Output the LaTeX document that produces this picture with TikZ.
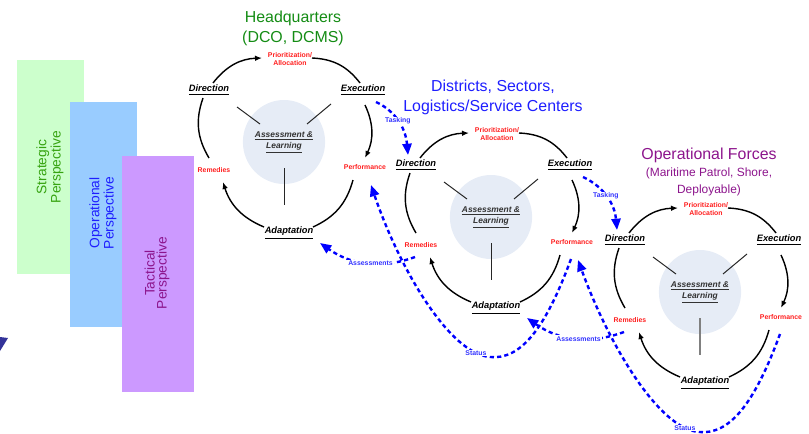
\documentclass[tikz,border=0pt]{standalone}
\usepackage{fontspec}
\setmainfont{Liberation Sans}
\usetikzlibrary{calc}
\usetikzlibrary{arrows.meta}
\usetikzlibrary{shapes.geometric}

\definecolor{hqgreen}{RGB}{20,140,20}
\definecolor{dsblue}{RGB}{30,30,255}
\definecolor{ofpurple}{RGB}{140,20,140}
\definecolor{lblred}{RGB}{255,30,30}
\definecolor{lnkblue}{RGB}{0,0,255}
\definecolor{lnktext}{RGB}{51,51,255}
\definecolor{stratbg}{RGB}{204,255,204}
\definecolor{operbg}{RGB}{153,204,255}
\definecolor{tactbg}{RGB}{204,153,255}
\definecolor{hubfill}{RGB}{230,236,246}
\definecolor{edgeblue}{RGB}{51,51,153}

\tikzset{
  title/.style={align=center, font=\fontsize{11.3}{14.3}\selectfont},
  persp/.style={rotate=90, align=center, font=\fontsize{9.8}{8.5}\selectfont},
  stage/.style={font=\fontsize{6.6}{8}\selectfont\bfseries\itshape},
  redlbl/.style={text=lblred, align=center, inner sep=1pt, font=\fontsize{4.9}{5.9}\selectfont\bfseries},
  hub/.style={ellipse, fill=hubfill, minimum width=1.85cm, minimum height=2.1cm, inner sep=0pt,
    align=center, text=black!80, font=\fontsize{6}{7.8}\selectfont\bfseries\itshape},
  cyc/.style={line width=1pt, >={Latex[length=5pt,width=4pt]}},
  spoke/.style={line width=0.7pt, black!85},
  spokegray/.style={line width=1.4pt, black!50},
  link/.style={draw=lnkblue, line width=1.7pt, dash pattern=on 3pt off 2.2pt, ->, >={Triangle[length=8pt,width=6.5pt]}},
  linklbl/.style={text=lnktext, fill=white, inner sep=0.6pt, font=\fontsize{4.9}{5.9}\selectfont\bfseries}
}

\begin{document}
\begin{tikzpicture}[x=0.025cm, y=0.025cm]
\useasboundingbox (0,0) rectangle (809,-434);

\fill[stratbg] (17,-60) rectangle (84,-274);
\fill[operbg] (70,-102) rectangle (137,-327);
\fill[tactbg] (122,-156) rectangle (194,-392);
\node (strat) at (50,-167) [persp, text=hqgreen!80!lime] {Strategic\\Perspective};
\node (oper) at (103,-213) [persp, text=dsblue] {Operational\\Perspective};
\node (tact) at (157,-273) [persp, text=ofpurple] {Tactical\\Perspective};
\fill[edgeblue] (0,-337) -- (8,-338) -- (0,-351) -- cycle;

\node (hqtitle) at (293,-28) [title, text=hqgreen] {Headquarters\\(DCO, DCMS)};
\node (dstitle) at (493,-97) [title, text=dsblue] {Districts, Sectors,\\Logistics/Service Centers};
\node (oftitle) at (709,-172) [title, text=ofpurple, font=\fontsize{11.3}{12.3}\selectfont]
  {Operational Forces\\{\fontsize{8.5}{12}\selectfont (Maritime Patrol, Shore,}\\{\fontsize{8.5}{12}\selectfont Deployable)}};

\foreach \n/\cx/\cy/\s in {hq/287/142/spoke, ds/494/217/spoke, of/703/292/spokegray}{
  \coordinate (c\n) at (\cx,-\cy);
  \node (\n-hub) at ($(c\n)+(-3,0)$) [hub] {\underline{Assessment \&}\\\underline{Learning}};
  \draw[spoke] ($(c\n)+(-50,35)$) -- ($(c\n)+(-27,18)$);
  \draw[spoke] ($(c\n)+(44,38)$) -- ($(c\n)+(20,18)$);
  \draw[\s] ($(c\n)+(-3,-26)$) -- ($(c\n)+(-3,-63)$);
  \draw[cyc] ($(c\n)+(-78,-16)$) to[bend left=25] ($(c\n)+(-84,44)$);
  \draw[cyc,->] ($(c\n)+(-74,59)$) to[bend left=25] ($(c\n)+(-25,84)$);
  \draw[cyc] ($(c\n)+(25,84)$) to[bend left=25] ($(c\n)+(73,59)$);
  \draw[cyc,->] ($(c\n)+(78,37)$) to[bend left=25] ($(c\n)+(78,-16)$);
  \draw[cyc] ($(c\n)+(66,-38)$) to[bend left=25] ($(c\n)+(26,-85)$);
  \draw[cyc,->] ($(c\n)+(-23,-85)$) to[bend left=25] ($(c\n)+(-64,-40)$);
  \node (\n-dir) at ($(c\n)+(-78,52)$) [stage] {\underline{Direction}};
  \node (\n-exe) at ($(c\n)+(76,52)$) [stage] {\underline{Execution}};
  \node (\n-ada) at ($(c\n)+(2,-91)$) [stage] {\underline{Adaptation}};
  \node (\n-pri) at ($(c\n)+(3,83)$) [redlbl] {Prioritization/\\Allocation};
  \node (\n-rem) at ($(c\n)+(-73,-28)$) [redlbl] {Remedies};
  \node (\n-per) at ($(c\n)+(78,-25)$) [redlbl] {Performance};
  \coordinate (\n-tq) at ($(c\n)+(89,40)$);
  \coordinate (\n-ti) at ($(c\n)+(-86,62)$);
  \coordinate (\n-ao) at ($(c\n)+(-79,-40)$);
  \coordinate (\n-ai) at ($(c\n)+(33,-101)$);
  \coordinate (\n-so) at ($(c\n)+(77,-42)$);
  \coordinate (\n-si) at ($(c\n)+(84,-43)$);
  \coordinate (\n-low) at ($(c\n)+(-4,-140)$);
}

\foreach \a/\b in {hq/ds, ds/of}{
  \draw[link] (\a-tq) to[out=-25,in=95] node[linklbl, pos=0.45] (\a-task) {Tasking} (\b-ti);
  \draw[link] (\b-ao) to[out=200,in=-35] node[linklbl, pos=0.45] (\b-asm) {Assessments} (\a-ai);
  \draw[link] (\b-so) .. controls ($(c\b)+(51,-113)$) and ($(c\b)+(26,-143)$) .. (\b-low)
    .. controls ($(c\b)+(-44,-137)$) and ($(c\b)+(-94,-53)$) .. (\a-si);
  \node (\b-stat) at ($(c\b)+(-18,-136)$) [linklbl] {Status};
}

\end{tikzpicture}
\end{document}
